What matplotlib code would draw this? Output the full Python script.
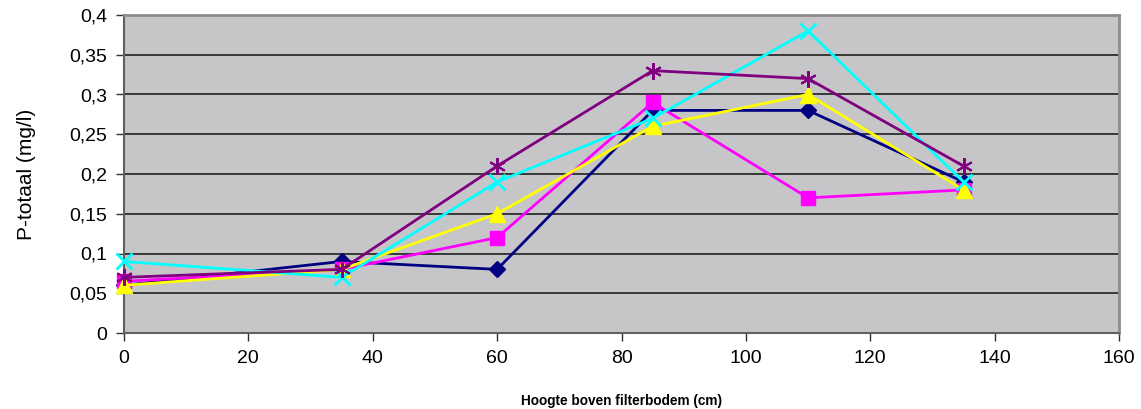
import matplotlib
matplotlib.use("Agg")
import matplotlib.pyplot as plt
from matplotlib.ticker import FuncFormatter, MultipleLocator

plt.rcParams['font.family'] = ['Liberation Sans', 'DejaVu Sans']

hoogte = [0, 35, 60, 85, 110, 135]
serie_1 = [0.06, 0.09, 0.08, 0.28, 0.28, 0.19]
serie_2 = [0.065, 0.08, 0.12, 0.29, 0.17, 0.18]
serie_3 = [0.06, 0.08, 0.15, 0.26, 0.30, 0.18]
serie_4 = [0.09, 0.07, 0.19, 0.27, 0.38, 0.19]
serie_5 = [0.07, 0.08, 0.21, 0.33, 0.32, 0.21]

fig = plt.figure(figsize=(11.41, 4.09), dpi=100)
ax = fig.add_axes([124 / 1141, 1 - 333 / 409, (1119 - 124) / 1141, (333 - 15) / 409])
ax.set_facecolor('#c6c6c8')

styles = [
    (serie_1, '#000080', 'D', 8, 1.0),
    (serie_2, '#ff00ff', 's', 10, 1.0),
    (serie_3, '#ffff00', '^', 11, 1.0),
    (serie_4, '#00ffff', 'x', 11, 2.0),
    (serie_5, '#800080', (6, 2, 0), 12, 1.5),
]
for data, color, marker, ms, mew in styles:
    ax.plot(hoogte, data, color=color, lw=2, marker=marker, ms=ms,
            markeredgewidth=mew, markeredgecolor=color, markerfacecolor=color,
            clip_on=False, zorder=3)

ax.set_xlim(0, 160)
ax.set_ylim(0, 0.4)
ax.xaxis.set_major_locator(MultipleLocator(20))
ax.yaxis.set_major_locator(MultipleLocator(0.05))
ax.yaxis.set_major_formatter(FuncFormatter(
    lambda v, p: ('%g' % round(v, 2)).replace('.', ',')))
ax.grid(axis='y', color='#202020', lw=1.2)
ax.set_axisbelow(True)

for side in ('top', 'right'):
    ax.spines[side].set_color('#8c8c8c')
    ax.spines[side].set_linewidth(2)
for side in ('left', 'bottom'):
    ax.spines[side].set_color('#606060')
    ax.spines[side].set_linewidth(1.5)

ax.tick_params(direction='out', length=6, width=1, color='#303030',
               labelsize=14, pad=6)

ax.set_ylabel('P-totaal (mg/l)', fontsize=15, labelpad=24)
ax.set_xlabel('Hoogte boven filterbodem (cm)', fontsize=9.8, fontweight='bold',
              labelpad=20)

fig.savefig('out.png', dpi=100)
